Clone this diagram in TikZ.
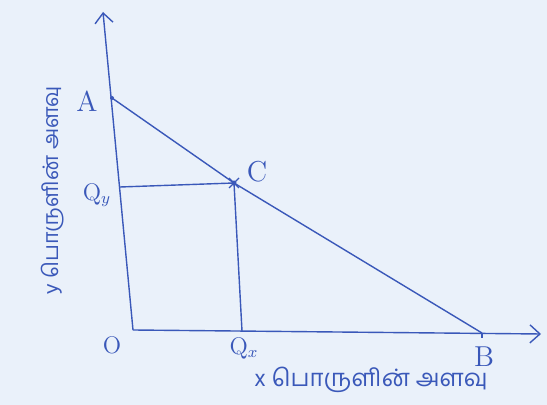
\documentclass[tikz,border=0pt]{standalone}
\usepackage{fontspec}
\newfontfamily\tamilfont[Script=Tamil]{Hind Madurai}
\definecolor{PenBlue}{RGB}{58,88,185}
\definecolor{Paper}{RGB}{234,241,250}
\usetikzlibrary{arrows.meta}

\begin{document}
\begin{tikzpicture}[x=0.5pt,y=-0.5pt,
  pen/.style={draw=PenBlue,line width=0.7pt},
  ax/.style={pen,-{Straight Barb[length=5pt,width=9pt]}},
  lbl/.style={text=PenBlue,inner sep=0pt},
  tam/.style={lbl,font=\tamilfont\large}]
\fill[Paper] (0,0) rectangle (547,405);
\useasboundingbox (0,0) rectangle (547,405);
% points on the axes
\coordinate (O) at (133,330);
\coordinate (ytop) at (103,12);
\coordinate (xend) at (541,334);
\coordinate (A) at (112,98);
\coordinate (B) at (482,333);
\coordinate (C) at (234,183);
\coordinate (Qy) at (120,187);
\coordinate (Qx) at (242,331);
% axes
\draw[ax] (O) -- (ytop);
\draw[ax] (O) -- (xend);
% price line and the chosen bundle
\draw[pen] (A) -- (C) -- (B);
\draw[pen] (Qy) -- (C) -- (Qx);
\fill[PenBlue] (A) circle (2);
\fill[PenBlue] (C) circle (2.5);
\draw[pen] (C) ++(-5,-5) -- ++(10,10);
\draw[pen] (C) ++(5,-5) -- ++(-10,10);
\draw[pen] (B) -- ++(0,5);
% labels
\node[lbl,font=\Large] (lA) at (87,101) {A};
\node[lbl,font=\Large] (lB) at (484,357) {B};
\node[lbl,font=\Large] (lC) at (257,172) {C};
\node[lbl,font=\large] (lO) at (112,345) {O};
\node[lbl,font=\large] (lQy) at (97,195) {Q$_y$};
\node[lbl,font=\large] (lQx) at (244,348) {Q$_x$};
\node[tam] (lx) at (371,380) {x பொருளின் அளவு};
\node[tam,font=\tamilfont\fontsize{10.7}{13}\selectfont,rotate=90] (ly) at (53,190) {y பொருளின் அளவு};
\end{tikzpicture}
\end{document}
